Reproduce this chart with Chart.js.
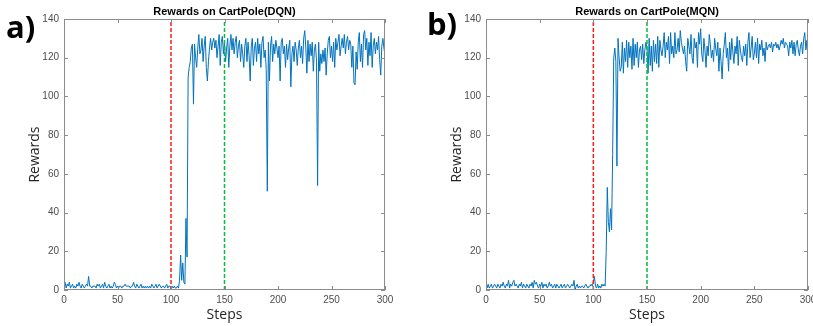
<!DOCTYPE html>
<html>
<head>
<meta charset="utf-8">
<script src="https://cdn.jsdelivr.net/npm/chart.js@4"></script>
<style>
  html, body { margin: 0; padding: 0; background: #fff; overflow: hidden; width: 813px; height: 326px; }
  .panel { position: absolute; top: 0; }
  .tag { position: absolute; font-family: "Open Sans", sans-serif; font-weight: 700; font-size: 31px; color: #000; line-height: 1; }
</style>
</head>
<body>
<canvas id="chartA" class="panel" width="406" height="326" style="left:0"></canvas>
<canvas id="chartB" class="panel" width="420" height="326" style="left:406px"></canvas>
<div class="tag" style="left:6px; top:11px">a)</div>
<div class="tag" style="left:427px; top:8px">b)</div>
<script>
// --- data ---
const xTicks = [0, 50, 100, 150, 200, 250, 300];
const yTicks = [0, 20, 40, 60, 80, 100, 120, 140];
const redLineStep = 100;
const greenLineStep = 150;

const dqnRewards = [
    2,4,1,3,2,4,1,2,3,1,2,1,3,2,4,2,1,3,2,1,
    2,3,2,7,2,2,1,2,2,2,1,3,2,3,1,2,3,1,4,2,
    1,2,3,1,2,1,2,4,3,1,2,1,2,2,1,2,2,3,2,2,
    2,2,1,2,2,4,2,1,3,2,1,2,3,1,2,1,2,1,2,1,
    2,1,3,2,1,2,3,1,2,3,2,1,2,2,1,2,3,1,2,2,
    1,2,1,2,1,1,2,1,5,18,5,14,4,3,37,17,110,115,118,125,
    127,96,127,120,115,125,132,122,124,130,118,126,131,115,108,118,125,130,124,128,
    130,125,129,120,126,132,116,128,131,122,128,118,125,130,115,126,132,124,130,122,
    128,131,120,126,129,118,127,122,115,126,130,118,128,121,108,126,130,116,125,128,
    118,130,122,127,115,128,131,120,124,114,51,128,108,126,131,118,127,122,129,125,
    120,126,108,128,130,122,126,115,127,119,125,129,105,122,126,118,128,124,116,125,
    129,120,126,117,130,134,125,112,129,118,127,121,128,113,124,127,118,54,128,113,
    122,117,124,118,125,111,122,129,131,120,126,118,128,115,130,124,128,132,121,126,
    130,125,132,122,128,131,124,129,127,115,126,107,106,123,114,128,133,118,127,115,
    132,134,124,130,116,128,121,133,115,126,130,122,128,124,131,119,111,126,130,125,
    121
];

const mqnRewards = [
    2,1,3,1,2,3,1,2,3,2,1,3,2,1,3,2,4,2,1,3,
    2,5,1,3,2,4,5,2,3,2,1,3,2,4,1,3,2,1,3,2,
    1,3,2,4,1,5,3,4,2,1,3,2,4,1,3,2,3,1,2,4,
    2,3,1,2,3,1,3,2,1,2,3,1,2,3,1,2,3,2,1,2,
    3,2,5,0,2,3,1,2,1,2,2,1,2,3,2,1,2,2,3,2,
    4,7,2,1,3,1,2,1,3,2,3,2,20,53,35,30,42,31,70,120,
    125,118,64,130,120,113,115,128,112,125,118,129,115,128,120,126,114,130,116,127,
    120,128,115,124,126,119,127,117,124,128,125,112,130,116,126,113,129,118,127,117,
    131,115,129,124,121,126,133,120,128,124,131,117,133,122,126,120,133,122,124,130,
    123,134,128,125,122,126,118,113,130,126,122,132,120,117,130,125,128,115,133,127,
    135,122,118,130,124,115,126,121,132,127,120,124,118,130,125,121,128,113,125,118,
    109,122,127,133,120,125,113,128,119,130,123,117,126,122,131,116,129,124,120,118,
    126,121,127,116,128,133,120,125,131,119,122,128,120,130,117,127,124,129,121,125,
    118,128,124,126,127,125,128,123,127,126,128,125,127,124,126,129,127,130,125,128,
    127,126,121,128,125,129,122,128,121,127,129,124,121,126,128,122,130,133,124,129,
    120
];

// MATLAB-ish box with inward ticks and a bold title over the plot area
const matlabBox = {
    id: 'matlabBox',
    afterDatasetsDraw(chart, args, opts) {
        const { ctx, chartArea: a, scales } = chart;
        ctx.save();
        ctx.strokeStyle = '#8c8c8c';
        ctx.lineWidth = 1;
        ctx.strokeRect(a.left + 0.5, a.top + 0.5, a.right - a.left - 1, a.bottom - a.top - 1);
        ctx.beginPath();
        xTicks.forEach(v => {
            const px = Math.round(scales.x.getPixelForValue(v)) + 0.5;
            ctx.moveTo(px, a.bottom); ctx.lineTo(px, a.bottom - 4);
            ctx.moveTo(px, a.top); ctx.lineTo(px, a.top + 4);
        });
        yTicks.forEach(v => {
            const py = Math.round(scales.y.getPixelForValue(v)) + 0.5;
            ctx.moveTo(a.left, py); ctx.lineTo(a.left + 4, py);
            ctx.moveTo(a.right, py); ctx.lineTo(a.right - 4, py);
        });
        ctx.stroke();
        ctx.fillStyle = '#000';
        ctx.font = 'bold 11px "Liberation Sans", Arial, sans-serif';
        ctx.textAlign = 'center';
        ctx.textBaseline = 'middle';
        ctx.fillText(opts.text, (a.left + a.right) / 2, 12);
        ctx.restore();
    }
};

function makePanel(canvasId, title, values, axisWidth, yTitlePad, padRight) {
    const points = values.map((v, i) => ({ x: i, y: v }));
    const vline = (step, color) => ({
        data: [{ x: step, y: 0 }, { x: step, y: 140 }],
        borderColor: color,
        borderWidth: 1.5,
        borderDash: [4, 2],
        pointRadius: 0
    });

    new Chart(document.getElementById(canvasId), {
        type: 'line',
        data: {
            datasets: [
                vline(redLineStep, '#ff1a1a'),
                vline(greenLineStep, '#00c040'),
                {
                    data: points,
                    borderColor: '#0072bd',
                    borderWidth: 1,
                    pointRadius: 0,
                    tension: 0
                }
            ]
        },
        options: {
            responsive: false,
            animation: false,
            devicePixelRatio: 1,
            layout: { padding: { top: 19, right: padRight, bottom: 0, left: 0 } },
            plugins: {
                legend: { display: false },
                tooltip: { enabled: false },
                title: { display: false },
                matlabBox: { text: title }
            },
            scales: {
                x: {
                    type: 'linear',
                    min: 0,
                    max: 300,
                    afterBuildTicks: (s) => { s.ticks = xTicks.map(v => ({ value: v })); },
                    afterFit: (s) => { s.height = 36; },
                    grid: { display: false, drawTicks: false },
                    border: { display: false },
                    ticks: {
                        maxRotation: 0,
                        padding: 4,
                        color: '#4d4d4d',
                        font: { family: '"Liberation Sans", Arial, sans-serif', size: 10 }
                    },
                    title: {
                        display: true,
                        text: 'Steps',
                        color: '#262626',
                        font: { family: '"Open Sans", sans-serif', size: 14 },
                        padding: { top: 0, bottom: 3 }
                    }
                },
                y: {
                    type: 'linear',
                    min: 0,
                    max: 140,
                    afterBuildTicks: (s) => { s.ticks = yTicks.map(v => ({ value: v })); },
                    afterFit: (s) => { s.width = axisWidth; },
                    grid: { display: false, drawTicks: false },
                    border: { display: false },
                    ticks: {
                        padding: 5,
                        color: '#4d4d4d',
                        font: { family: '"Liberation Sans", Arial, sans-serif', size: 10 }
                    },
                    title: {
                        display: true,
                        text: 'Rewards',
                        color: '#262626',
                        font: { family: '"Open Sans", sans-serif', size: 14 },
                        padding: { top: yTitlePad, bottom: 0 }
                    }
                }
            }
        },
        plugins: [matlabBox]
    });
}

makePanel('chartA', 'Rewards on CartPole(DQN)', dqnRewards, 64, 27, 21);
makePanel('chartB', 'Rewards on CartPole(MQN)', mqnRewards, 80, 43, 18);
</script>
</body>
</html>
